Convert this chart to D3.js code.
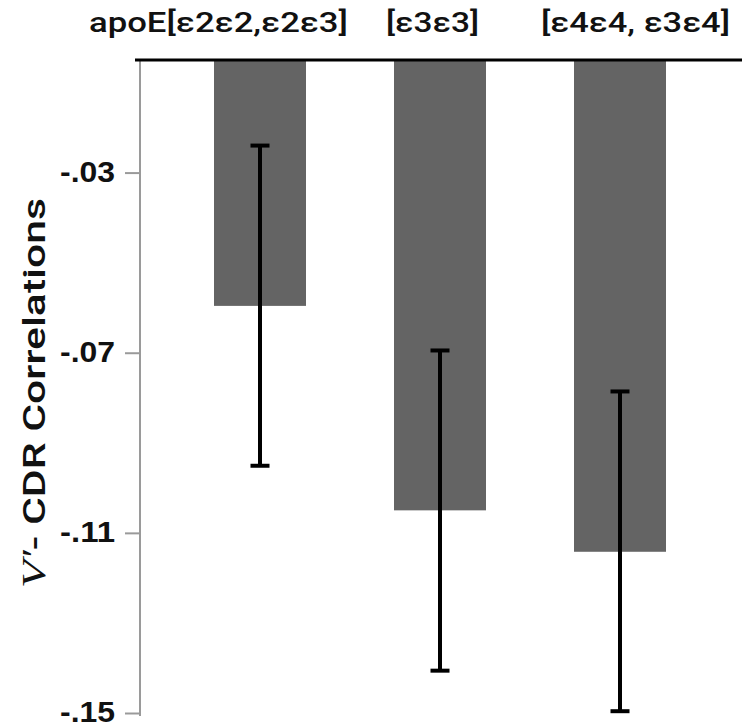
<!DOCTYPE html>
<html>
<head>
<meta charset="utf-8">
<script src="https://cdn.jsdelivr.net/npm/d3@7"></script>
<style>
  html, body { margin: 0; padding: 0; background: #ffffff; }
  svg { display: block; }
</style>
</head>
<body>
<svg id="chart" width="743" height="728"></svg>
<script>
// ---- data ----
const categories = ["apoE[ε2ε2,ε2ε3]", "[ε3ε3]", "[ε4ε4, ε3ε4]"];
const values = [-0.0596, -0.1050, -0.1142];
const errUpper = [-0.0240, -0.0695, -0.0786];
const errLower = [-0.0951, -0.1406, -0.1496];
const tickValues = [-0.03, -0.07, -0.11, -0.15];
const tickLabels = ["-.03", "-.07", "-.11", "-.15"];

// ---- layout ----
const svg = d3.select("#chart");
const axisX = 140;
const y = d3.scaleLinear().domain([-0.005, -0.15]).range([60, 713]);
const x = d3.scalePoint().domain(categories).range([260, 620]);
const barW = 92;
const capW = 19;

// category label positions (start x, text length)
const labelLayout = [
  { x: 89, len: 259 },
  { x: 386, len: 93 },
  { x: 541, len: 189 }
];

// bars
svg.append("g").selectAll("rect")
  .data(categories)
  .join("rect")
  .attr("x", d => x(d) - barW / 2)
  .attr("y", y(-0.005))
  .attr("width", barW)
  .attr("height", (d, i) => y(values[i]) - y(-0.005))
  .attr("fill", "#646464");

// error bars
const eg = svg.append("g").attr("stroke", "#000").attr("stroke-width", 4);
categories.forEach((c, i) => {
  const cx = x(c);
  eg.append("line").attr("x1", cx).attr("x2", cx)
    .attr("y1", y(errUpper[i])).attr("y2", y(errLower[i]));
  eg.append("line").attr("x1", cx - capW / 2).attr("x2", cx + capW / 2)
    .attr("y1", y(errUpper[i])).attr("y2", y(errUpper[i]));
  eg.append("line").attr("x1", cx - capW / 2).attr("x2", cx + capW / 2)
    .attr("y1", y(errLower[i])).attr("y2", y(errLower[i]));
});

// left axis
const yAxis = d3.axisLeft(y)
  .tickValues(tickValues)
  .tickFormat((d, i) => tickLabels[i])
  .tickSize(15)
  .tickPadding(8);
const ag = svg.append("g").attr("transform", `translate(${axisX},0)`).call(yAxis);
ag.select(".domain").remove();
ag.append("line").attr("x1", 0).attr("x2", 0)
  .attr("y1", y(-0.005)).attr("y2", 716)
  .attr("stroke", "#9a9a9a").attr("stroke-width", 2);
ag.selectAll(".tick line").attr("stroke", "#9a9a9a").attr("stroke-width", 2);
ag.selectAll(".tick text")
  .attr("fill", "#111")
  .attr("font-family", "'Liberation Sans', Arial, sans-serif")
  .attr("font-weight", "bold")
  .attr("font-size", 29)
  .attr("x", -25)
  .attr("dy", "0.3em")
  .attr("textLength", 55)
  .attr("lengthAdjust", "spacingAndGlyphs");

// top line
svg.append("line")
  .attr("x1", 135).attr("x2", 742)
  .attr("y1", y(-0.005)).attr("y2", y(-0.005))
  .attr("stroke", "#000").attr("stroke-width", 3);

// category labels at top
svg.append("g").selectAll("text")
  .data(categories)
  .join("text")
  .attr("x", (d, i) => labelLayout[i].x)
  .attr("y", 32)
  .attr("font-family", "Roboto, 'Liberation Sans', sans-serif")
  .attr("font-weight", 500)
  .attr("font-size", 27)
  .attr("fill", "#111")
  .attr("textLength", (d, i) => labelLayout[i].len)
  .attr("lengthAdjust", "spacingAndGlyphs")
  .text(d => d);

// y title
const t = svg.append("text")
  .attr("transform", "translate(45,393) rotate(-90)")
  .attr("text-anchor", "middle")
  .attr("font-family", "Roboto, 'Liberation Sans', Arial, sans-serif")
  .attr("font-weight", 500)
  .attr("font-size", 31)
  .attr("fill", "#111")
  .attr("textLength", 390)
  .attr("lengthAdjust", "spacingAndGlyphs");
t.append("tspan")
  .attr("font-family", "'Liberation Serif', 'Times New Roman', serif")
  .attr("font-style", "italic")
  .attr("font-weight", "normal")
  .attr("font-size", 33)
  .text("V′");
t.append("tspan").text("- CDR Correlations");
</script>
</body>
</html>
